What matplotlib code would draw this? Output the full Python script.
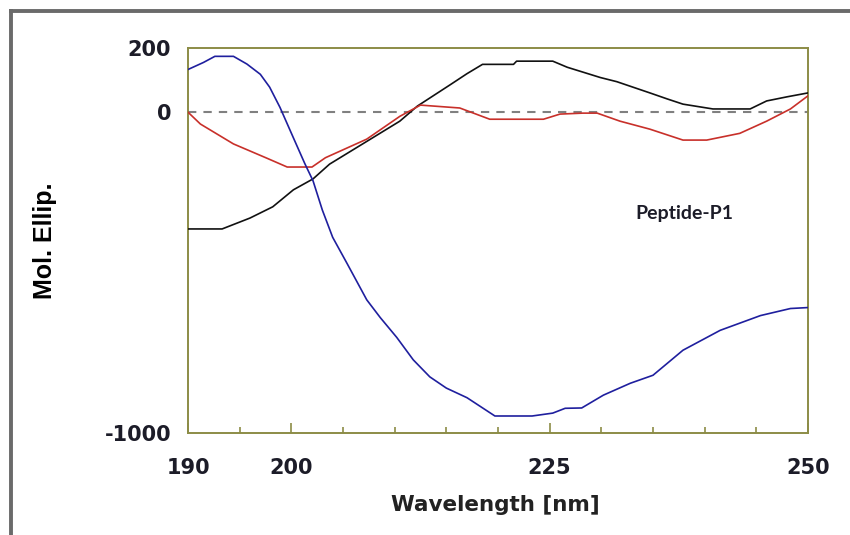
import matplotlib
matplotlib.use("Agg")
import matplotlib.pyplot as plt
from matplotlib.lines import Line2D
from matplotlib.ticker import FixedLocator, MultipleLocator

# ---- data ----
blue_wl = [190, 191.5, 192.6, 194.4, 195.7, 197, 197.9, 198.9, 200.2, 201.3, 202.1, 203,
           204, 205.4, 207.3, 208.6, 210.2, 211.8, 213.4, 215, 217, 219.7, 223.3, 225.3,
           226.5, 228.1, 230.2, 232.8, 235, 237.9, 241.5, 245.4, 248.3, 250]
blue_val = [133, 155, 174, 174, 150, 118, 78, 15, -80, -160, -214, -305,
            -390, -472, -585, -640, -702, -772, -825, -860, -890, -947, -947, -938,
            -923, -922, -882, -845, -820, -742, -680, -634, -612, -609]

black_wl = [190, 193.3, 196, 198.2, 200.2, 202.1, 203.7, 206.9, 210.5, 212.2, 215.4, 217,
            218.5, 221.5, 221.8, 225.3, 226.7, 229.9, 231.5, 234.7, 236.4, 237.9, 240.8,
            244.4, 246, 248, 250]
black_val = [-364, -364, -330, -295, -242, -208, -162, -99, -28, 19, 86, 120,
             149, 149, 159, 159, 140, 108, 95, 60, 41, 25, 10,
             10, 35, 48, 60]

red_wl = [190, 191.2, 194.4, 197.6, 199.6, 202, 203.3, 205.3, 207.3, 210.5, 212.5, 216.3,
          219.2, 224.4, 226, 228.2, 229.6, 231.8, 234.7, 237.9, 240.2, 243.4, 246, 248.3, 250]
red_val = [0, -37, -99, -143, -171, -171, -142, -113, -84, -13, 22, 13,
           -22, -22, -6, -3, -3, -28, -53, -87, -87, -66, -28, 10, 51]

x_major = [190, 200, 225, 250]
x_labels = ["190", "200", "225", "250"]
y_major = [-1000, 0, 200]
y_labels = ["-1000", "0", "200"]
annotation = "Peptide-P1"

# ---- figure ----
fig = plt.figure(figsize=(8.5, 5.35), dpi=100)
fig.patch.set_facecolor("white")
ax = fig.add_axes([188 / 850, 1 - 433 / 535, 620 / 850, 385 / 535])

frame_col = "#8c8c46"
text_col = "#1c1c28"

ax.axhline(0, color="#808080", lw=1.5, ls=(0, (4, 3.4)), zorder=1)
ax.plot(black_wl, black_val, color="#111111", lw=1.2, zorder=3)
ax.plot(red_wl, red_val, color="#c8302a", lw=1.2, zorder=3)
ax.plot(blue_wl, blue_val, color="#1f1f9e", lw=1.2, zorder=4)

ax.set_xlim(190, 250)
ax.set_ylim(-1000, 200)

for s in ax.spines.values():
    s.set_color(frame_col)
    s.set_linewidth(1.4)

ax.xaxis.set_major_locator(FixedLocator(x_major))
ax.set_xticklabels(x_labels)
ax.xaxis.set_minor_locator(MultipleLocator(5))
ax.yaxis.set_major_locator(FixedLocator(y_major))
ax.set_yticklabels(y_labels)

for lab in ax.get_xticklabels() + ax.get_yticklabels():
    lab.set_fontfamily("DejaVu Sans")
    lab.set_fontweight("bold")
    lab.set_fontsize(15)
    lab.set_color(text_col)

ax.tick_params(axis="x", which="major", direction="in", length=7, width=1.2,
               color=frame_col, pad=18)
ax.tick_params(axis="x", which="minor", direction="in", length=4, width=1.2,
               color=frame_col)
ax.tick_params(axis="y", which="both", length=0, pad=12)

ax.set_ylabel("Mol. Ellip.", fontfamily="Liberation Sans", fontweight="bold",
              fontsize=18, color="#000000")
ax.yaxis.set_label_coords(-0.211, 0.5)
ax.set_xlabel("Wavelength [nm]", fontfamily="DejaVu Sans", fontweight="bold",
              fontsize=15.5, color="#222222")
ax.xaxis.set_label_coords(0.495, -0.187)
ax.xaxis.label.set_va("center")

ax.text(0.8, 0.571, annotation, transform=ax.transAxes, ha="center", va="center",
        fontfamily="Lato", fontweight="bold", fontsize=14, color=text_col)

# outer gray frame (top and left edges visible)
fig.add_artist(Line2D([11 / 850, 11 / 850], [0, 1 - 11 / 535], transform=fig.transFigure,
                      color="#6a6a6a", lw=2.8))
fig.add_artist(Line2D([11 / 850, 1], [1 - 11 / 535, 1 - 11 / 535], transform=fig.transFigure,
                      color="#6a6a6a", lw=2.8))

fig.savefig("out.png", dpi=100, facecolor="white")
